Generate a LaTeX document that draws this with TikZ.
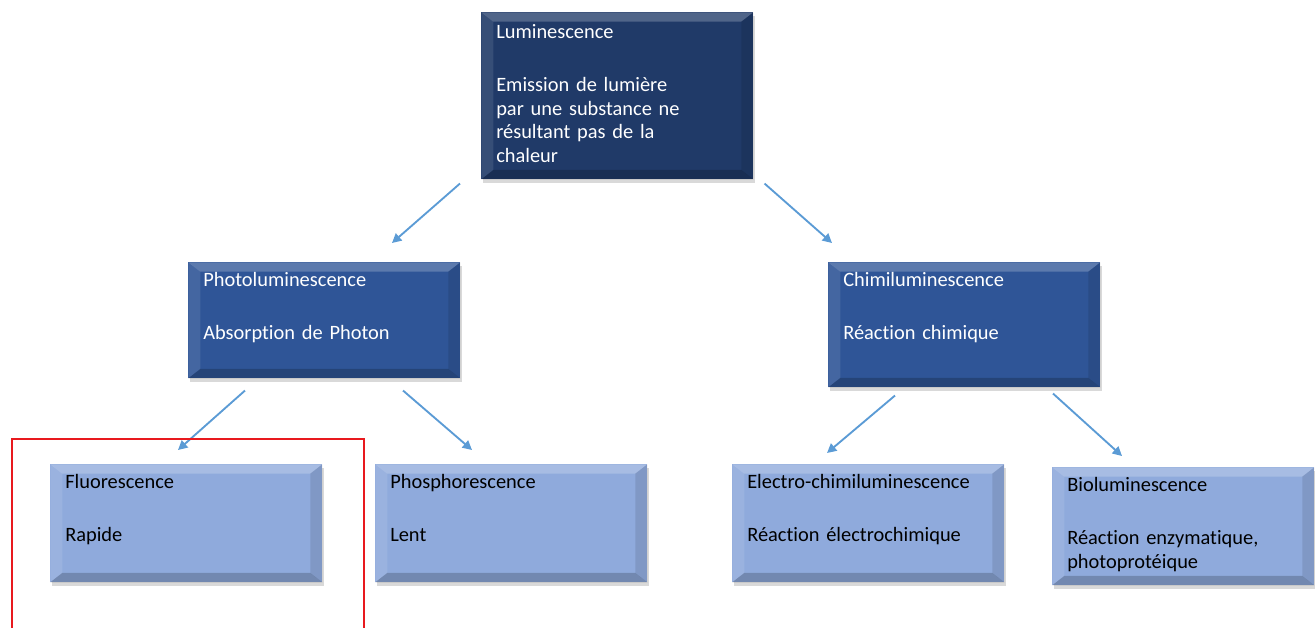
\documentclass[tikz,border=0pt]{standalone}
\usepackage{fontspec}
\setmainfont{Carlito}[Ligatures=NoCommon]
\usetikzlibrary{arrows.meta,shadows}
\definecolor{navy}{HTML}{203A68}
\definecolor{midblue}{HTML}{2F5597}
\definecolor{paleblue}{HTML}{8FAADC}
\definecolor{arrowblue}{HTML}{5B9BD5}
\definecolor{framered}{HTML}{E8191E}
\newcommand{\titlegap}{\\[22pt]}

\begin{document}
\begin{tikzpicture}[x=0.75pt,y=-0.75pt,
        bevel/.style={path picture={
            \fill[white,opacity=0.22] (path picture bounding box.north west) -- (path picture bounding box.north east)
                -- ([shift={(-9pt,-7pt)}]path picture bounding box.north east) -- ([shift={(9pt,-7pt)}]path picture bounding box.north west) -- cycle;
            \fill[white,opacity=0.10] (path picture bounding box.north west) -- (path picture bounding box.south west)
                -- ([shift={(9pt,7pt)}]path picture bounding box.south west) -- ([shift={(9pt,-7pt)}]path picture bounding box.north west) -- cycle;
            \fill[black,opacity=0.10] (path picture bounding box.north east) -- (path picture bounding box.south east)
                -- ([shift={(-9pt,7pt)}]path picture bounding box.south east) -- ([shift={(-9pt,-7pt)}]path picture bounding box.north east) -- cycle;
            \fill[black,opacity=0.20] (path picture bounding box.south west) -- (path picture bounding box.south east)
                -- ([shift={(-9pt,7pt)}]path picture bounding box.south east) -- ([shift={(9pt,7pt)}]path picture bounding box.south west) -- cycle;
        }},
        box/.style={anchor=north west, inner xsep=11.25pt, inner ysep=0pt,
            text width=181.5pt, text height=18.5pt, align=left,
            font=\fontsize{15.3}{17.6}\selectfont, bevel,
            drop shadow={opacity=0.3,shadow xshift=1pt,shadow yshift=-2.5pt}},
        topbox/.style={box, fill=navy, text=white},
        midbox/.style={box, fill=midblue, text=white},
        lowbox/.style={box, fill=paleblue, text=black, text depth=70pt},
        link/.style={-{Triangle[length=7pt,width=7pt]}, arrowblue, line width=1.4pt},
        frame/.style={framered, line width=2.2pt}]
    \useasboundingbox (0,0) rectangle (1315,628);

    \node[topbox, text height=20pt, text depth=105.25pt] (lum) at (481,12)
        {Luminescence\titlegap Emission de lumière\\par une substance ne\\résultant pas de la\\chaleur};

    \node[midbox, text depth=68.5pt] (photo) at (188,262) {Photoluminescence\titlegap Absorption de Photon};
    \node[midbox, text depth=75.25pt] (chimi) at (828,262) {Chimiluminescence\titlegap Réaction chimique};

    \node[lowbox] (fluor) at (50,464) {Fluorescence\titlegap Rapide};
    \node[lowbox] (phos) at (375,464) {Phosphorescence\titlegap Lent};
    \node[lowbox] (electro) at (732,464) {Electro-chimiluminescence\titlegap Réaction électrochimique};
    \node[lowbox, text width=174pt] (bio) at (1052,467) {Bioluminescence\titlegap Réaction enzymatique,\\photoprotéique};

    \draw[link] ([shift={(-21,4)}]lum.south west) -- ([shift={(204,-19)}]photo.north west);
    \draw[link] ([shift={(11,4)}]lum.south east) -- ([shift={(4,-19)}]chimi.north west);
    \draw[link] ([shift={(57,12)}]photo.south west) -- ([shift={(128,-14)}]fluor.north west);
    \draw[link] ([shift={(215,12)}]photo.south west) -- ([shift={(97,-14)}]phos.north west);
    \draw[link] ([shift={(67,8)}]chimi.south west) -- ([shift={(95,-11)}]electro.north west);
    \draw[link] ([shift={(225,6)}]chimi.south west) -- ([shift={(70,-11)}]bio.north west);

    \draw[frame] (12,634) |- (364,439) -- (364,634);
\end{tikzpicture}
\end{document}
